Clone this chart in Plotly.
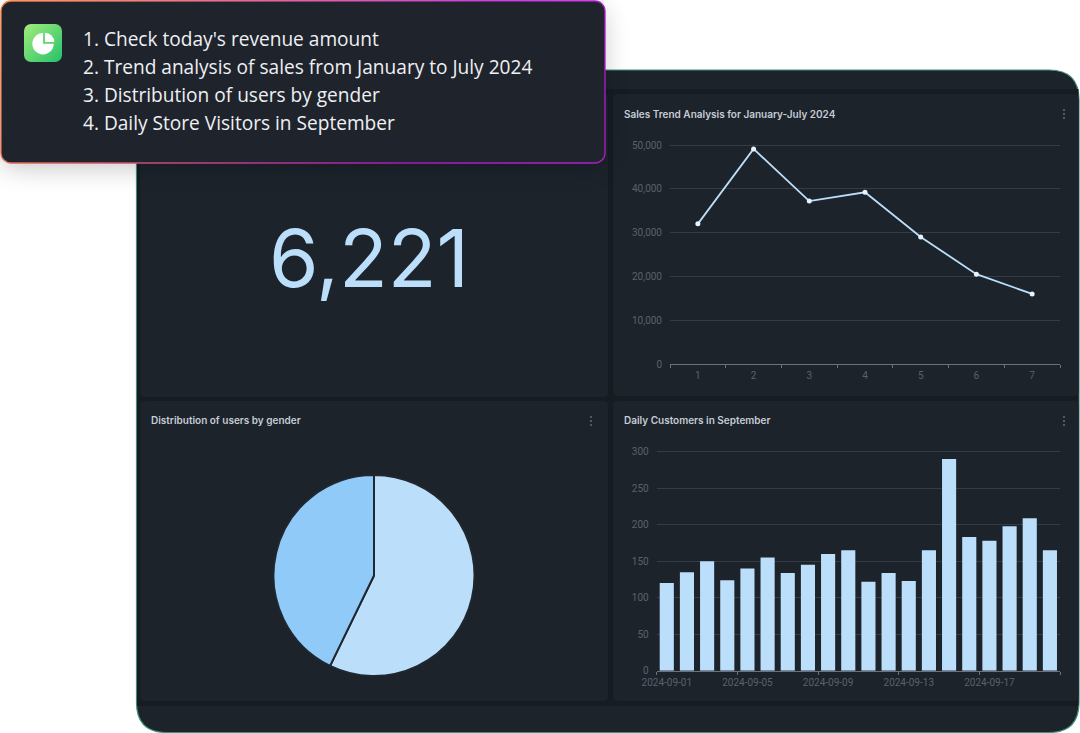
import base64
import plotly.graph_objects as go

# datos
meses = ["1", "2", "3", "4", "5", "6", "7"]
ventas = [32000, 49100, 37200, 39200, 29000, 20500, 16000]

dias = ["2024-09-01", "2024-09-02", "2024-09-03", "2024-09-04", "2024-09-05",
        "2024-09-06", "2024-09-07", "2024-09-08", "2024-09-09", "2024-09-10",
        "2024-09-11", "2024-09-12", "2024-09-13", "2024-09-14", "2024-09-15",
        "2024-09-16", "2024-09-17", "2024-09-18", "2024-09-19", "2024-09-20"]
clientes = [120, 135, 150, 124, 140, 155, 134, 145, 160, 165,
            122, 134, 123, 165, 290, 183, 178, 198, 209, 165]

generos = ["Male", "Female"]
usuarios = [57.2, 42.8]

ingresos_hoy = "6,221"
preguntas = ["1. Check today's revenue amount",
             "2. Trend analysis of sales from January to July 2024",
             "3. Distribution of users by gender",
             "4. Daily Store Visitors in September"]
titulos = ["Sales Trend Analysis for January-July 2024",
           "Distribution of users by gender",
           "Daily Customers in September"]

W, H = 1080, 733
AZUL = "#bbdefb"
AZUL2 = "#90caf9"
FONDO = "#1c232b"
GUTTER = "#171c23"
GRILLA = "#363c47"
EJE = "#6c727d"
TICK = "#5c616b"
FUENTE = "Inter"


def px_x(x):
    return x / W


def px_y(y):
    return 1 - y / H


def rect_redondo(x0, y0, x1, y1, r, fill, line=None, lw=0):
    # rectangulo con esquinas redondeadas, se pasa a coordenadas paper
    def p(x, y):
        return f"{px_x(x):.5f} {px_y(y):.5f}"
    path = (f"M {p(x0+r, y0)} L {p(x1-r, y0)} Q {p(x1, y0)} {p(x1, y0+r)} "
            f"L {p(x1, y1-r)} Q {p(x1, y1)} {p(x1-r, y1)} L {p(x0+r, y1)} "
            f"Q {p(x0, y1)} {p(x0, y1-r)} L {p(x0, y0+r)} Q {p(x0, y0)} {p(x0+r, y0)} Z")
    return dict(type="path", xref="paper", yref="paper", path=path, fillcolor=fill,
                line=dict(color=line or fill, width=lw), layer="below")


def puntos_menu(x, y):
    # los tres puntitos de cada tarjeta
    return [dict(type="circle", xref="paper", yref="paper",
                 x0=px_x(x-1), x1=px_x(x+1), y0=px_y(y+d+1), y1=px_y(y+d-1),
                 fillcolor="#666c76", line=dict(width=0), layer="below") for d in (-4, 0, 4)]


# globo de arriba con sombra y borde degradado, mas el icono verde
svg = f"""<svg xmlns="http://www.w3.org/2000/svg" width="{W}" height="{H}" viewBox="0 0 {W} {H}">
<defs>
<linearGradient id="borde" x1="0" y1="0" x2="1" y2="0.15">
<stop offset="0" stop-color="#f2803f"/><stop offset="0.4" stop-color="#c94a78"/>
<stop offset="0.8" stop-color="#a41ab8"/><stop offset="1" stop-color="#b01ccc"/>
</linearGradient>
<linearGradient id="verde" x1="0" y1="0" x2="1" y2="1">
<stop offset="0" stop-color="#a3ec7c"/><stop offset="1" stop-color="#25c26a"/>
</linearGradient>
<filter id="sombra" x="-10%" y="-30%" width="120%" height="170%"><feGaussianBlur stdDeviation="13"/></filter>
</defs>
<rect x="2" y="8" width="602" height="160" rx="10" fill="#000" opacity="0.22" filter="url(#sombra)"/>
<rect x="1" y="1" width="604" height="162" rx="10" fill="#1f232c" stroke="url(#borde)" stroke-width="1.3"/>
<rect x="24" y="24" width="38" height="38" rx="7" fill="url(#verde)"/>
<path d="M43 33 A10.7 10.7 0 1 0 53.7 43.7 L43 43.7 Z" fill="#fff"/>
<path d="M45 32.7 A9.3 9.3 0 0 1 54.3 42 L45 42 Z" fill="#fff"/>
</svg>"""
svg_uri = "data:image/svg+xml;base64," + base64.b64encode(svg.encode()).decode()

shapes = [
    rect_redondo(136.5, 70, 1079, 732.5, 30, FONDO, "#3f8f7f", 1.2),
    dict(type="rect", xref="paper", yref="paper", x0=px_x(137), x1=px_x(1078.5),
         y0=px_y(706), y1=px_y(89), fillcolor=GUTTER, line=dict(width=0), layer="below"),
    rect_redondo(140, 94, 608, 397, 5, FONDO),
    rect_redondo(613, 94, 1078.5, 396, 5, FONDO),
    rect_redondo(140, 401, 608, 701, 5, FONDO),
    rect_redondo(613, 401, 1078.5, 701, 5, FONDO),
]
shapes += puntos_menu(1064, 114) + puntos_menu(591, 421) + puntos_menu(1064, 421)

fig = go.Figure()

fig.add_trace(go.Scatter(
    x=meses, y=ventas, xaxis="x", yaxis="y", mode="lines+markers",
    line=dict(color=AZUL, width=1.8),
    marker=dict(color="#e6f3fe", size=5), showlegend=False,
))
fig.add_trace(go.Bar(
    x=dias, y=clientes, xaxis="x2", yaxis="y2", marker=dict(color=AZUL, line=dict(width=0)),
    showlegend=False,
))
fig.add_trace(go.Pie(
    labels=generos, values=usuarios, sort=False, direction="clockwise", rotation=0,
    textinfo="none", showlegend=False,
    marker=dict(colors=[AZUL, AZUL2], line=dict(color="#20272f", width=2)),
    domain=dict(x=[px_x(273.5), px_x(474.5)], y=[px_y(676), px_y(475)]),
))

annotations = []
for i, texto in enumerate(preguntas):
    annotations.append(dict(
        xref="paper", yref="paper", x=px_x(81), y=px_y(39 + 28 * i), text=texto,
        showarrow=False, xanchor="left", yanchor="middle",
        font=dict(family="Open Sans", size=19.1, color="#eef0f3"),
    ))
annotations.append(dict(
    xref="paper", yref="paper", x=px_x(369), y=px_y(257), text=ingresos_hoy,
    showarrow=False, xanchor="center", yanchor="middle",
    font=dict(family=FUENTE, size=80, color=AZUL, weight=400),
))
for texto, (x, y) in zip(titulos, [(622, 114.5), (149, 420.5), (622, 420.5)]):
    annotations.append(dict(
        xref="paper", yref="paper", x=px_x(x), y=px_y(y), text=texto,
        showarrow=False, xanchor="left", yanchor="middle",
        font=dict(family=FUENTE, size=10, color="#c6ccd5", weight=600),
    ))

eje_x = dict(
    type="category", tickson="boundaries", tickmode="linear", tick0=0, tickangle=0,
    automargin=False, ticklabelstandoff=2,
    showgrid=False, zeroline=False, showline=True, linecolor=EJE, linewidth=1.2,
    ticks="outside", ticklen=3, tickcolor=EJE,
    tickfont=dict(family="Roboto", size=10, color=TICK),
)
eje_y = dict(
    automargin=False,
    zeroline=False, showline=False, showgrid=True, gridcolor=GRILLA, gridwidth=1,
    ticks="outside", ticklen=5, tickcolor="rgba(0,0,0,0)",
    tickfont=dict(family="Roboto", size=10, color=TICK),
)

# el rango pasa 2px del ultimo tick porque plotly no dibuja la grilla justo en el borde
fig.update_layout(
    width=W, height=H, margin=dict(l=0, r=0, t=0, b=0),
    paper_bgcolor="white", plot_bgcolor="rgba(0,0,0,0)", bargap=0.3,
    xaxis=dict(eje_x, domain=[px_x(670), px_x(1060)], anchor="y", dtick=1,
               range=[-0.5, 6.5]),
    yaxis=dict(eje_y, domain=[px_y(364), px_y(143)], anchor="x", range=[0, 50457],
               tickvals=[0, 10000, 20000, 30000, 40000, 50000], tickformat=","),
    xaxis2=dict(eje_x, domain=[px_x(656.7), px_x(1060)], anchor="y2", dtick=4,
                range=[-0.5, 19.5]),
    yaxis2=dict(eje_y, domain=[px_y(670.7), px_y(449.7)], anchor="x2", range=[0, 302.74],
                tickvals=[0, 50, 100, 150, 200, 250, 300]),
    shapes=shapes,
    images=[dict(source=svg_uri, xref="paper", yref="paper", x=0, y=1, sizex=1, sizey=1,
                 sizing="stretch", xanchor="left", yanchor="top", layer="above")],
    annotations=annotations,
)

fig.write_html("out.html", config=dict(displayModeBar=False),
               post_script="document.body.style.margin='0';document.documentElement.style.overflow='hidden';")
